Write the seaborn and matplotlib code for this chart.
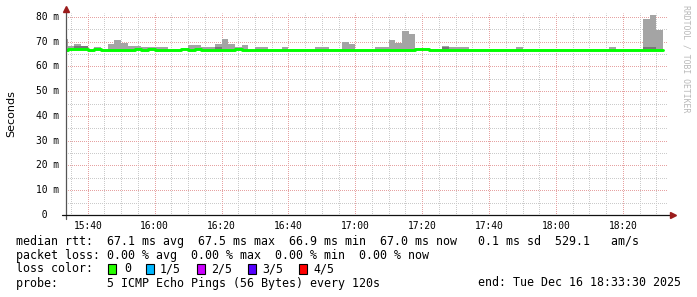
import matplotlib
matplotlib.use("Agg")
import matplotlib.pyplot as plt
from matplotlib.patches import Rectangle
from matplotlib.lines import Line2D
import numpy as np
import pandas as pd
import seaborn as sns

# ---------------- data ----------------
first_bin = "15:32"          # start of first 2-minute RRD step
step_minutes = 2
view_start = "15:33:30"
view_end = "18:33:30"

# median RTT per step (ms)
median_ms = [
    66.8, 67.1, 67.1, 67.1, 66.5, 67.1, 66.8, 66.8, 66.8, 66.5,
    66.8, 67.1, 66.8, 67.1, 66.8, 66.8, 66.8, 66.8, 67.1, 66.8,
    67.1, 66.8, 66.8, 66.8, 66.8, 66.8, 67.1, 66.8, 66.8, 66.8,
    66.5, 66.8, 66.8, 66.8, 66.8, 66.8, 66.8, 66.8, 66.8, 66.5,
    66.8, 66.8, 66.8, 66.5, 66.5, 66.8, 66.8, 66.8, 66.5, 66.8,
    66.8, 66.8, 66.8, 67.1, 67.1, 66.8, 66.8, 66.8, 66.5, 66.8,
    66.8, 66.5, 66.8, 66.8, 66.8, 66.8, 66.8, 66.8, 66.8, 66.8,
    66.8, 66.5, 66.5, 66.8, 66.8, 66.8, 66.8, 66.8, 66.8, 66.8,
    66.8, 66.8, 66.8, 66.8, 66.8, 66.8, 66.8, 66.8, 66.8, 66.8,
]
# highest ping per step (ms) = top of the smoke
max_ms = [
    71.1, 68.3, 69.1, 68.3, 66.5, 67.9, 66.8, 69.1, 70.7, 69.6,
    68.3, 68.3, 67.7, 67.7, 67.7, 67.7, 66.8, 66.8, 67.1, 68.7,
    68.7, 67.7, 67.7, 69.1, 71.1, 69.1, 68.0, 68.5, 66.8, 67.7,
    67.7, 66.8, 66.8, 67.7, 66.8, 66.8, 66.8, 66.8, 67.7, 67.7,
    66.8, 66.8, 69.9, 69.1, 66.5, 66.8, 66.8, 67.7, 67.7, 70.7,
    69.6, 74.3, 73.1, 67.1, 67.1, 66.8, 66.8, 68.3, 67.9, 67.7,
    67.7, 66.5, 66.8, 66.8, 66.8, 66.8, 66.8, 66.8, 67.7, 66.8,
    66.8, 66.5, 66.5, 66.8, 66.8, 66.8, 66.8, 66.8, 66.8, 66.8,
    66.8, 66.8, 67.7, 66.8, 66.8, 66.8, 66.8, 79.2, 80.8, 74.7,
]
# dense (darker) smoke band per step, None where absent
dense_ms = [None] * 90
dense_ms[2] = 67.8
dense_ms[3] = 67.8
dense_ms[23] = 67.5
dense_ms[57] = 67.6
dense_ms[87] = 67.5
dense_ms[88] = 67.5

x_tick_labels = ["15:40", "16:00", "16:20", "16:40", "17:00",
                 "17:20", "17:40", "18:00", "18:20"]
y_tick_values = [0, 10, 20, 30, 40, 50, 60, 70, 80]
y_tick_labels = [" 0  ", "10 m", "20 m", "30 m", "40 m",
                 "50 m", "60 m", "70 m", "80 m"]
y_max = 81.6

legend_line1 = "median rtt:  67.1 ms avg  67.5 ms max  66.9 ms min  67.0 ms now   0.1 ms sd  529.1   am/s"
legend_line2 = "packet loss: 0.00 % avg  0.00 % max  0.00 % min  0.00 % now"
loss_title = "loss color:"
loss_labels = ["0", "1/5", "2/5", "3/5", "4/5"]
loss_colors = ["#26ff00", "#00b8ff", "#cc00ff", "#5500ff", "#ff0000"]
probe_text = "probe:       5 ICMP Echo Pings (56 Bytes) every 120s"
end_text = "end: Tue Dec 16 18:33:30 2025"
watermark = "RRDTOOL / TOBI OETIKER"


def to_min(s):
    parts = [int(p) for p in s.split(":")]
    m = parts[0] * 60 + parts[1]
    if len(parts) > 2:
        m += parts[2] / 60.0
    return m


# ---------------- figure ----------------
sns.set_theme(style="white")
plt.rcParams["font.family"] = ["DejaVu Sans Mono"]
W, H = 697, 297
fig = plt.figure(figsize=(W / 100, H / 100), dpi=100, facecolor="white")
L, R, B, T = 66, 668, 215, 13
ax = fig.add_axes([L / W, 1 - B / H, (R - L) / W, (B - T) / H])
ax.set_facecolor("white")

n = len(median_ms)
starts = to_min(first_bin) + step_minutes * np.arange(n)
df = pd.DataFrame({"t": starts, "median": median_ms, "max": max_ms})
last = pd.DataFrame({"t": [starts[-1] + step_minutes],
                     "median": [median_ms[-1]], "max": [max_ms[-1]]})
dfs = pd.concat([df, last], ignore_index=True)

# smoke
ax.fill_between(dfs["t"], dfs["median"] - 0.3, dfs["max"], step="post",
                color="#a4a4a4", lw=0, zorder=2)
dense = pd.Series([np.nan if v is None else v for v in dense_ms])
ok = dense.notna().values
ax.hlines(dense[ok], starts[ok], starts[ok] + step_minutes,
          color="#6a6a6a", lw=1.1, zorder=3)

# median line
sns.lineplot(data=dfs, x="t", y="median", drawstyle="steps-post",
             color="#00ff00", lw=2.1, estimator=None, sort=True,
             ax=ax, zorder=4, legend=False)

# axes range
ax.set_xlim(to_min(view_start), to_min(view_end))
ax.set_ylim(0, y_max)

# grid (dotted)
major_x = [to_min(s) for s in x_tick_labels]
minor_x = np.arange(np.ceil(to_min(view_start) / 5) * 5, to_min(view_end), 5)
minor_x = [v for v in minor_x if v not in major_x]
gkw = dict(lw=0.72, ls=(0.5, (1.0, 1.0)), zorder=1, antialiased=True)
for v in minor_x:
    ax.axvline(v, color="#cbcbcb", **gkw)
for v in [5, 15, 25, 35, 45, 55, 65, 75]:
    ax.axhline(v, color="#cbcbcb", **gkw)
for v in major_x:
    ax.axvline(v, color="#e6a2a2", **gkw)
for v in y_tick_values[1:]:
    ax.axhline(v, color="#e6a2a2", **gkw)

for s in ax.spines.values():
    s.set_visible(False)

# ticks
ax.set_xticks(major_x)
ax.set_xticklabels(x_tick_labels)
ax.tick_params(axis="x", length=0, pad=4.5, labelsize=6.9, colors="#000000")
ax.set_yticks(y_tick_values)
ax.set_yticklabels([])
ax.tick_params(axis="y", length=0)
ax.set_xlabel("")
ax.set_ylabel("")
ytr = ax.get_yaxis_transform()
for v, lab in zip(y_tick_values, y_tick_labels):
    ax.text(-30 / (R - L), v, lab, transform=ytr, ha="left", va="center",
            fontsize=6.9, family="DejaVu Sans Mono", color="#000000")

# axis lines and arrows
ax.add_line(Line2D([0, 0], [-4 / (B - T), 1 + 3 / (B - T)], transform=ax.transAxes,
                   color="#555555", lw=0.9, clip_on=False, zorder=5))
ax.add_line(Line2D([-4 / (R - L), 1 + 2 / (R - L)], [0, 0], transform=ax.transAxes,
                   color="#111111", lw=0.9, clip_on=False, zorder=5))
ax.plot([0], [1 + 4 / (B - T)], marker="^", ms=4.5, color="#9b1c1c",
        transform=ax.transAxes, clip_on=False, zorder=6)
ax.plot([1 + 5 / (R - L)], [0], marker=">", ms=4.5, color="#9b1c1c",
        transform=ax.transAxes, clip_on=False, zorder=6)

# y label and watermark
fig.text(11 / W, 1 - 114 / H, "Seconds", rotation=90, ha="center", va="center",
         fontsize=8, family="DejaVu Sans", color="#000000")
fig.text(686 / W, 1 - 5 / H, watermark, rotation=270, ha="center", va="top",
         fontsize=5.9, family="DejaVu Sans Mono", color="#b8b8b8")

# legend text
fs = 8.4


def ftext(x, y, s, **kw):
    fig.text(x / W, 1 - y / H, s, fontsize=fs, family="DejaVu Sans Mono",
             va="center", color="#000000", **kw)


ftext(16, 241, legend_line1)
ftext(16, 255, legend_line2)
ftext(16, 269, loss_title)
sq_x = [108, 146, 197, 248, 299]
lab_x = [124, 160, 211, 262, 313]
for c, lab, sx, lx in zip(loss_colors, loss_labels, sq_x, lab_x):
    fig.patches.append(Rectangle((sx / W, 1 - 274 / H), 8 / W, 10 / H,
                                 transform=fig.transFigure, facecolor=c,
                                 edgecolor="#000000", lw=0.8))
    ftext(lx, 269, lab)
ftext(16, 283, probe_text)
ftext(681, 283, end_text, ha="right")

fig.savefig("out.png", dpi=100, facecolor="white")
